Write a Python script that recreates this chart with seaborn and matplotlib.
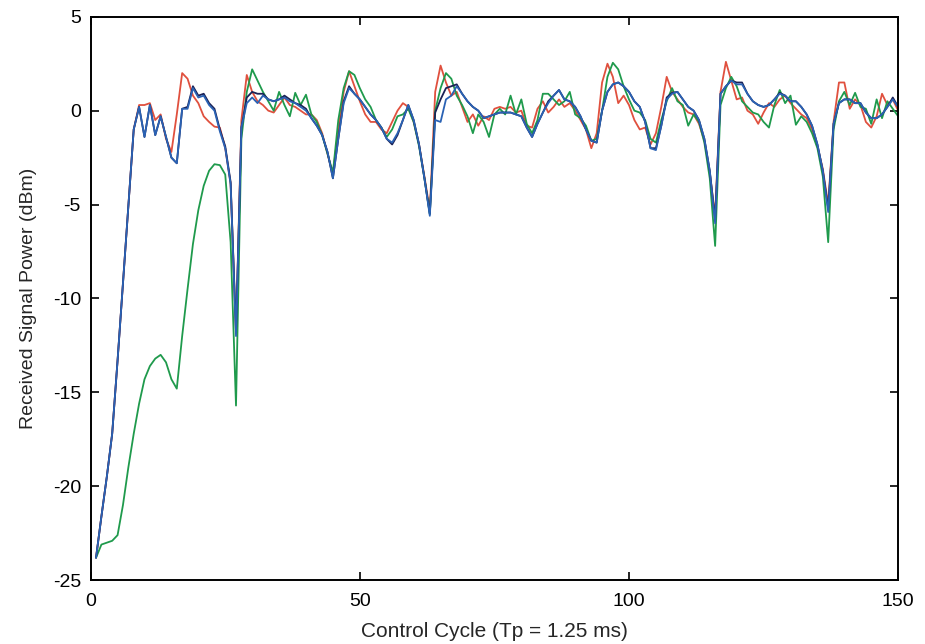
import numpy as np
import pandas as pd
import seaborn as sns
import matplotlib
matplotlib.use("Agg")
import matplotlib.pyplot as plt

# control cycle index
cycles = list(range(1, 151))

# received power (dBm)
power_red = [
    -23.8, -21.6, -19.5, -17.2, -13.3, -9.2, -5.1, -1.0, 0.3, 0.3,
    0.4, -0.5, -0.2, -1.5, -2.2, -0.2, 2.0, 1.7, 0.8, 0.4,
    -0.3, -0.6, -0.85, -0.9, -2.0, -3.9, -11.8, -0.5, 1.9, 1.0,
    0.5, 0.3, 0.0, -0.1, 0.3, 0.7, 0.3, 0.2, 0.0, -0.2,
    -0.2, -0.5, -1.2, -2.3, -3.4, -1.0, 1.0, 2.1, 1.3, 0.5,
    -0.2, -0.6, -0.6, -1.0, -1.2, -0.6, 0.0, 0.4, 0.2, -0.6,
    -1.8, -3.5, -5.3, 1.0, 2.4, 1.5, 0.8, 1.0, 0.2, -0.6,
    -0.2, -0.8, -0.3, -0.5, 0.1, 0.2, 0.1, 0.2, -0.1, 0.0,
    -0.8, -0.9, 0.1, 0.5, -0.1, 0.2, 0.6, 0.2, 0.4, 0.0,
    -0.5, -1.0, -2.0, -1.2, 1.5, 2.5, 1.8, 0.4, 0.8, 0.3,
    -0.5, -1.0, -0.9, -1.8, -1.2, 0.2, 1.8, 1.0, 0.6, 0.2,
    -0.1, -0.2, -0.7, -1.6, -3.3, -5.6, 1.0, 2.6, 1.6, 0.6,
    0.7, 0.0, -0.2, -0.7, -0.1, 0.4, 0.2, 0.6, 0.8, 0.4,
    0.1, -0.2, -0.4, -1.0, -1.9, -3.1, -5.0, -0.6, 1.5, 1.5,
    0.1, 0.6, 0.3, -0.6, -0.9, -0.3, 0.9, 0.3, 0.6, 0.0,
]

power_green = [
    -23.8, -23.1, -23.0, -22.9, -22.6, -21.0, -19.0, -17.2, -15.6, -14.3,
    -13.6, -13.2, -13.0, -13.4, -14.3, -14.8, -12.0, -9.5, -7.1, -5.3,
    -4.0, -3.2, -2.85, -2.9, -3.4, -7.0, -15.7, -1.5, 1.0, 2.2,
    1.6, 1.0, 0.5, 0.0, 1.0, 0.3, -0.3, 0.95, 0.3, 0.85,
    -0.2, -0.6, -1.3, -2.3, -3.3, -0.5, 1.2, 2.1, 1.9, 1.2,
    0.6, 0.2, -0.5, -0.9, -1.4, -1.0, -0.3, -0.2, 0.1, -0.6,
    -1.9, -3.6, -5.5, 0.0, 1.2, 2.0, 1.7, 0.8, 0.3, -0.3,
    -1.2, -0.2, -0.6, -1.4, -0.2, 0.1, -0.2, 0.8, -0.2, 0.6,
    -0.7, -1.2, -0.5, 0.9, 0.9, 0.6, 0.3, 0.5, 1.0, -0.2,
    -0.4, -0.8, -1.6, -1.5, 0.0, 1.8, 2.55, 2.2, 1.3, 0.6,
    0.0, -0.1, -0.5, -1.5, -1.7, -0.5, 0.5, 1.2, 0.5, 0.3,
    -0.8, -0.2, -0.6, -1.7, -3.6, -7.2, 0.3, 1.2, 1.8, 1.3,
    0.5, 0.2, -0.1, -0.2, -0.6, -0.9, 0.3, 1.1, 0.4, 0.8,
    -0.75, -0.3, -0.6, -1.2, -2.0, -3.5, -7.0, -1.0, 0.5, 1.0,
    0.3, 0.95, 0.2, 0.1, -0.7, 0.6, -0.4, 0.5, 0.1, -0.3,
]

power_navy = [
    -23.8, -21.6, -19.5, -17.2, -13.3, -9.2, -5.1, -1.0, 0.2, -1.4,
    0.3, -1.3, -0.3, -1.4, -2.5, -2.8, 0.1, 0.2, 1.3, 0.8,
    0.9, 0.4, 0.1, -1.0, -1.9, -3.8, -11.8, -0.9, 0.7, 1.0,
    0.9, 0.9, 0.6, 0.5, 0.6, 0.8, 0.6, 0.4, 0.3, 0.1,
    -0.4, -0.8, -1.3, -2.2, -3.6, -1.5, 0.5, 1.3, 0.9, 0.6,
    0.2, -0.2, -0.5, -0.9, -1.5, -1.8, -1.3, -0.5, 0.3, -0.5,
    -1.8, -3.6, -5.5, -0.1, 0.6, 1.2, 1.3, 1.4, 0.9, 0.5,
    0.2, 0.0, -0.4, -0.3, -0.2, -0.1, -0.1, -0.1, -0.2, -0.3,
    -0.9, -1.4, -0.7, -0.1, 0.5, 0.8, 1.1, 0.6, 0.5, 0.2,
    -0.3, -1.0, -1.6, -1.7, 0.0, 1.0, 1.4, 1.5, 1.3, 1.0,
    0.5, 0.2, -0.6, -2.0, -2.0, -0.8, 0.7, 0.95, 1.0, 0.6,
    0.2, 0.0, -0.5, -1.5, -3.2, -5.8, 0.9, 1.3, 1.6, 1.5,
    1.5, 0.9, 0.5, 0.3, 0.2, 0.3, 0.6, 0.95, 0.8, 0.5,
    0.5, 0.2, -0.2, -0.8, -1.8, -3.2, -5.2, -0.7, 0.4, 0.6,
    0.6, 0.4, 0.4, -0.1, -0.4, -0.4, -0.2, 0.2, 0.7, 0.2,
]

power_blue = [
    -23.8, -21.6, -19.5, -17.2, -13.3, -9.2, -5.1, -1.0, 0.2, -1.4,
    0.3, -1.3, -0.3, -1.4, -2.5, -2.8, 0.1, 0.1, 1.2, 0.7,
    0.8, 0.3, 0.0, -1.1, -2.0, -3.9, -12.0, -0.9, 0.4, 0.7,
    0.4, 0.8, 0.6, 0.5, 0.6, 0.7, 0.5, 0.4, 0.2, 0.0,
    -0.4, -0.8, -1.3, -2.2, -3.6, -1.5, 0.4, 1.2, 0.9, 0.6,
    0.2, -0.2, -0.5, -0.9, -1.5, -1.7, -1.2, -0.5, 0.3, -0.5,
    -1.8, -3.6, -5.6, -0.5, -0.6, 0.6, 0.8, 1.3, 0.9, 0.5,
    0.2, 0.0, -0.4, -0.3, -0.2, -0.1, -0.1, -0.1, -0.2, -0.3,
    -0.9, -1.4, -0.7, -0.1, 0.4, 0.8, 1.1, 0.6, 0.5, 0.2,
    -0.3, -1.0, -1.6, -1.7, 0.0, 1.0, 1.4, 1.5, 1.3, 1.0,
    0.5, 0.2, -0.6, -2.0, -2.1, -0.8, 0.6, 0.9, 1.0, 0.6,
    0.2, 0.0, -0.5, -1.5, -3.2, -6.0, 0.9, 1.3, 1.6, 1.4,
    1.4, 0.9, 0.5, 0.3, 0.2, 0.3, 0.6, 0.9, 0.8, 0.5,
    0.5, 0.2, -0.2, -0.8, -1.8, -3.2, -5.4, -0.7, 0.4, 0.6,
    0.6, 0.4, 0.4, -0.1, -0.4, -0.4, -0.2, 0.2, 0.6, 0.2,
]

series = [
    (power_red, "#e0503e"),
    (power_green, "#1f9a4c"),
    (power_navy, "#1b2256"),
    (power_blue, "#2a62b4"),
]

sns.set_style("white")
plt.rcParams["font.family"] = ["Liberation Sans", "DejaVu Sans"]

fig = plt.figure(figsize=(9.25, 6.44), dpi=100)
ax = fig.add_axes([0.098, 0.099, 0.873, 0.875])

for vals, col in series:
    sns.lineplot(x=cycles, y=vals, color=col, linewidth=1.3, ax=ax)

ax.set_xlim(0, 150)
ax.set_ylim(-25, 5)
ax.set_xticks([0, 50, 100, 150])
ax.set_yticks([5, 0, -5, -10, -15, -20, -25])
ax.set_yticklabels(["5", "0", "-5", "-10", "-15", "-20", "-25"])
ax.tick_params(direction="in", length=6, width=1.2, labelsize=14,
               top=True, right=True, bottom=True, left=True, colors="black")
ax.tick_params(axis="x", pad=9)
ax.tick_params(axis="y", pad=7)
for sp in ax.spines.values():
    sp.set_color("black")
    sp.set_linewidth(1.4)

ax.set_xlabel("Control Cycle (Tp = 1.25 ms)", fontsize=15, labelpad=9)
ax.set_ylabel("Received Signal Power (dBm)", fontsize=14, labelpad=11)

fig.savefig("out.png", dpi=100)
